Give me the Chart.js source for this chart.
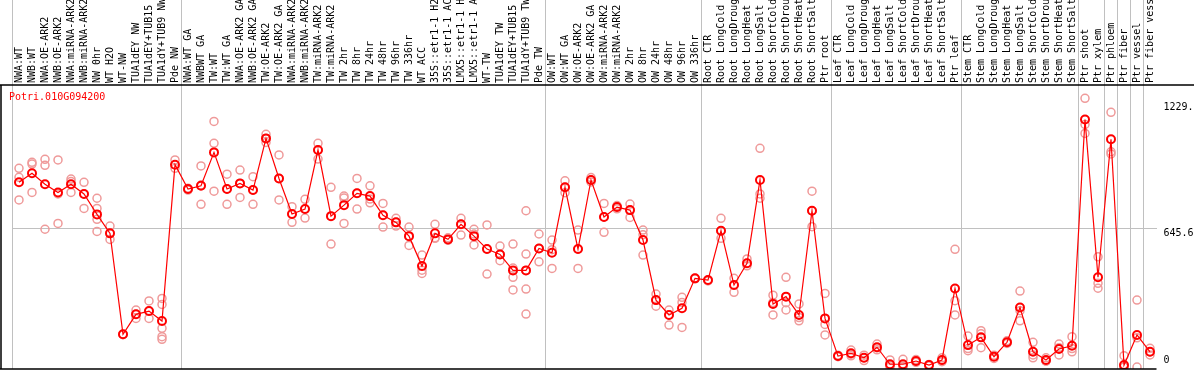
<!DOCTYPE html>
<html>
<head>
<meta charset="utf-8">
<script src="https://cdn.jsdelivr.net/npm/chart.js@4/dist/chart.umd.min.js"></script>
<style>
  body { margin: 0; background: #fff; }
  canvas { display: block; }
</style>
</head>
<body>
<canvas id="chart" width="1194" height="370"></canvas>
<script>
const geneId = "Potri.010G094200";

const samples = [
  "NWA:WT", "NWB:WT", "NWA:OE-ARK2", "NWB:OE-ARK2", "NWA:miRNA-ARK2", "NWB:miRNA-ARK2",
  "NW 0hr", "WT H2O", "WT-NW", "TUA1dEY NW", "TUA1dEY+TUB15 NW", "TUA1dY+TUB9 NW", "Pde NW",
  "NWA:WT GA", "NWBWT GA", "TW:WT", "TW:WT GA", "NWA:OE-ARK2 GA", "NWB:OE-ARK2 GA",
  "TW:OE-ARK2", "TW:OE-ARK2 GA", "NWA:miRNA-ARK2", "NWB:miRNA-ARK2", "TW:miRNA-ARK2", "TW:miRNA-ARK2",
  "TW 2hr", "TW 8hr", "TW 24hr", "TW 48hr", "TW 96hr", "TW 336hr", "WT ACC",
  "35S::etr1-1 H2O", "35S::etr1-1 ACC", "LMX5::etr1-1 H2O", "LMX5::etr1-1 ACC",
  "WT-TW", "TUA1dEY TW", "TUA1dEY+TUB15 TW", "TUA1dY+TUB9 TW", "Pde TW",
  "OW:WT", "OW:WT GA", "OW:OE-ARK2", "OW:OE-ARK2 GA", "OW:miRNA-ARK2", "OW:miRNA-ARK2",
  "OW 2hr", "OW 8hr", "OW 24hr", "OW 48hr", "OW 96hr", "OW 336hr",
  "Root CTR", "Root LongCold", "Root LongDrought", "Root LongHeat", "Root LongSalt",
  "Root ShortCold", "Root ShortDrought", "Root ShortHeat", "Root ShortSalt", "Ptr root",
  "Leaf CTR", "Leaf LongCold", "Leaf LongDrought", "Leaf LongHeat", "Leaf LongSalt",
  "Leaf ShortCold", "Leaf ShortDrought", "Leaf ShortHeat", "Leaf ShortSalt", "Ptr leaf",
  "Stem CTR", "Stem LongCold", "Stem LongDrought", "Stem LongHeat", "Stem LongSalt",
  "Stem ShortCold", "Stem ShortDrought", "Stem ShortHeat", "Stem ShortSalt",
  "Ptr shoot", "Ptr xylem", "Ptr phloem", "Ptr fiber", "Ptr vessel", "Ptr fiber vessel"
];

// mean expression per sample
const means = [
  858, 900, 849, 811, 849, 804, 709, 621, 152, 245, 260, 214, 940,
  827, 842, 997, 827, 853, 822, 1062, 876, 711, 734, 1008, 701,
  752, 807, 794, 705, 672, 608, 469, 621, 593, 663, 608,
  548, 523, 449, 449, 551,
  531, 835, 548, 869, 697, 743, 729, 590, 311, 242, 273, 412,
  404, 633, 381, 482, 869, 293, 327, 242, 726, 226,
  51, 64, 43, 92, 13, 13, 28, 9, 33, 365,
  102, 138, 48, 115, 277, 71, 33, 84, 99,
  1150, 417, 1058, 9, 149, 71
];

// individual replicates per sample
const replicates = [
  [923, 881, 776], [951, 943, 811], [965, 937, 640], [962, 804, 667], [873, 862, 811],
  [858, 804, 737], [784, 737, 686, 630], [655, 621, 593], [152, 150], [265, 245, 226],
  [307, 260, 226], [319, 291, 180, 141, 129], [962, 923],
  [822, 830], [934, 845, 756], [1141, 1039, 817], [896, 827, 756], [915, 853, 788],
  [884, 822, 756], [1081, 1062, 1043], [985, 876, 776], [745, 711, 672], [779, 734, 692],
  [1039, 1008, 966], [835, 701, 571],
  [794, 785, 667], [876, 807, 734], [842, 780, 763], [760, 705, 650], [691, 672, 655],
  [650, 608, 565], [520, 450, 435], [663, 600, 598], [600, 590, 590], [691, 663, 613],
  [640, 618, 567],
  [660, 548, 432], [562, 523, 494], [571, 460, 417, 358], [726, 525, 449, 362, 246], [618, 551, 489],
  [590, 545, 458], [865, 835, 810], [636, 548, 458], [880, 869, 860], [760, 697, 626],
  [750, 743, 735], [757, 729, 695], [636, 615, 520], [339, 311, 283], [265, 242, 195],
  [324, 300, 184], [412, 410],
  [404, 400], [691, 633, 598], [412, 381, 347], [502, 482, 470], [1016, 804, 784],
  [334, 300, 242], [417, 299, 265], [293, 230, 215], [817, 726, 652], [342, 198, 149],
  [55, 48], [79, 60, 52], [55, 43, 30], [107, 90, 80], [33, 8, 0],
  [36, 5, 0], [35, 25, 22], [12, 8, 6], [43, 30, 25], [547, 308, 242],
  [144, 86, 76], [169, 155, 90], [55, 40], [122, 110], [353, 262, 215],
  [115, 56, 43], [43, 28, 28], [107, 90, 56], [141, 86, 71],
  [1248, 1127, 1085], [512, 389, 366], [1183, 1000, 990], [53, 0, 0], [311, 136, 0], [87, 71, 56]
];

// index of the first sample of each group (gray separators)
const groupStarts = [0, 13, 41, 53, 63, 73, 82, 84, 85, 86, 87, 88];

const yTicks = [0, 645.6, 1229.2];
const yMin = -9;
const yMax = 1310;

const FONT = { family: "DejaVu Sans Mono", size: 10 };
const RED = "#ff0000";
const PINK = "#ef9a9a";
const GRID = "#c0c0c0";

const maxReps = Math.max(...replicates.map(r => r.length));
const repSets = [];
for (let k = 0; k < maxReps; k++) {
  repSets.push({
    label: "rep " + (k + 1),
    data: replicates.map(r => (r[k] === undefined ? null : r[k])),
    showLine: false,
    pointRadius: 4,
    pointBorderWidth: 1.5,
    pointBorderColor: PINK,
    pointBackgroundColor: "rgba(0,0,0,0)",
    order: 2
  });
}

const frame = {
  id: "frame",
  afterDraw(chart) {
    const { ctx, chartArea } = chart;
    ctx.save();
    ctx.strokeStyle = "#000";
    ctx.lineWidth = 1.5;
    ctx.beginPath();
    ctx.moveTo(0, chartArea.top);
    ctx.lineTo(chart.width, chartArea.top);
    ctx.moveTo(0, chartArea.bottom);
    ctx.lineTo(chartArea.right, chartArea.bottom);
    ctx.moveTo(1, chartArea.top);
    ctx.lineTo(1, chartArea.bottom);
    ctx.stroke();
    ctx.fillStyle = RED;
    ctx.font = "10px 'DejaVu Sans Mono'";
    ctx.textBaseline = "middle";
    ctx.fillText(geneId, 9, chartArea.top + 12);
    ctx.restore();
  }
};

new Chart(document.getElementById("chart"), {
  type: "line",
  data: {
    labels: samples,
    datasets: [
      {
        label: geneId,
        data: means,
        borderColor: RED,
        borderWidth: 1.2,
        pointRadius: 4,
        pointBorderWidth: 2,
        pointBorderColor: RED,
        pointBackgroundColor: "rgba(0,0,0,0)",
        tension: 0,
        order: 1
      },
      ...repSets
    ]
  },
  options: {
    responsive: false,
    animation: false,
    devicePixelRatio: 1,
    layout: { autoPadding: false, padding: { left: 12.5, bottom: 1 } },
    plugins: { legend: { display: false }, tooltip: { enabled: false } },
    scales: {
      x: {
        position: "top",
        offset: true,
        border: { display: false },
        grid: {
          offset: true,
          tickLength: 85,
          lineWidth: 1,
          color: c => (groupStarts.includes(c.index) ? GRID : "rgba(0,0,0,0)")
        },
        ticks: {
          autoSkip: false,
          minRotation: 90,
          maxRotation: 90,
          padding: -83,
          labelOffset: 12,
          color: "#000",
          font: FONT
        },
        afterFit: s => { s.height = 85; s.paddingLeft = 0; s.paddingRight = 0; }
      },
      y: {
        position: "right",
        min: yMin,
        max: yMax,
        border: { display: false },
        grid: {
          drawTicks: false,
          color: c => (c.tick && c.tick.value === yTicks[1] ? GRID : "rgba(0,0,0,0)")
        },
        afterBuildTicks: s => { s.ticks = yTicks.map(v => ({ value: v })); },
        ticks: {
          padding: 7,
          labelOffset: 5,
          color: "#000",
          font: FONT,
          callback: v => (v === 0 ? ["0", "", ""] : String(v))
        },
        afterFit: s => { s.width = 37.5; s.paddingTop = 0; s.paddingBottom = 0; }
      }
    }
  },
  plugins: [frame]
});
</script>
</body>
</html>
